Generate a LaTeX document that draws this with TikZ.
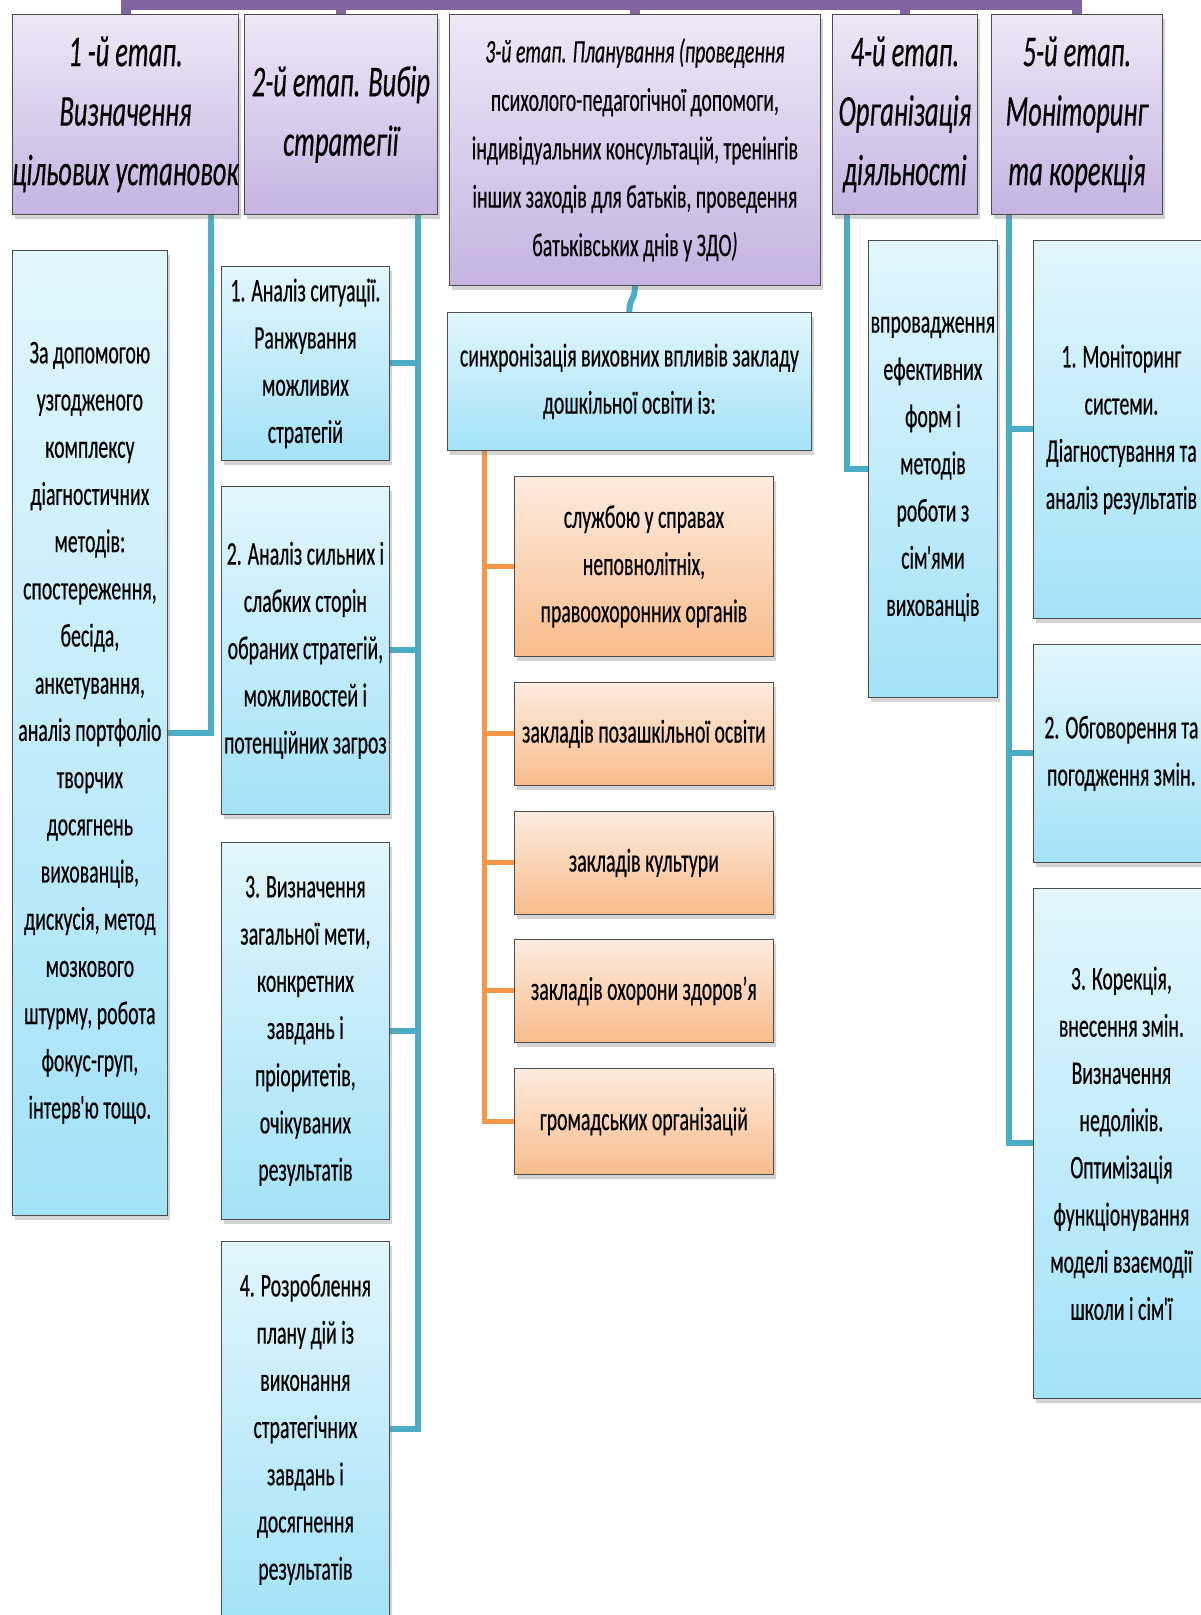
\documentclass[tikz,border=0pt]{standalone}
\usepackage{fontspec}
\setmainfont{Carlito}[FakeStretch=0.6,FakeBold=0.35]
\usetikzlibrary{shadows,backgrounds}
\definecolor{lilactop}{HTML}{EEE8F6}
\definecolor{lilacbot}{HTML}{C6B3E2}
\definecolor{skytop}{HTML}{E2F6FC}
\definecolor{skybot}{HTML}{A3E2F8}
\definecolor{peachtop}{HTML}{FDECDF}
\definecolor{peachbot}{HTML}{F9BC8B}
\definecolor{tealline}{HTML}{4BACC6}
\definecolor{orangeline}{HTML}{F79646}
\definecolor{barline}{HTML}{8064A2}
\newcommand\apos{\kern-0.02em\textquotesingle\kern-0.09em}
\begin{document}
\begin{tikzpicture}[x=0.5pt,y=-0.5pt,
  box/.style={draw=gray!60!black,line width=0.4pt,align=center,inner sep=0pt,anchor=north west,
    drop shadow={shadow xshift=1.2pt,shadow yshift=-2.4pt,opacity=0.35}},
  size/.style 2 args={minimum width=#1pt,minimum height=#2pt},
  stage/.style={box,top color=lilactop,bottom color=lilacbot,font=\fontsize{22}{29.75}\selectfont\itshape},
  item/.style={box,top color=skytop,bottom color=skybot,font=\fontsize{16.5}{23.6}\selectfont},
  partner/.style={box,top color=peachtop,bottom color=peachbot,font=\fontsize{16.5}{23.6}\selectfont},
  link/.style={draw=tealline,line width=3pt},
  olink/.style={draw=orangeline,line width=2.5pt},
  topbar/.style={draw=barline,line width=5pt}]
\useasboundingbox (0,0) rectangle (1200,1615);

% stages
\node[stage,size={110}{100}] (h1) at (12,14) {1 -й етап.\\Визначення\\цільових установок};
\node[stage,size={96.5}{100}] (h2) at (244,14) {2-й етап. Вибір\\стратегії};
\node[stage,size={185.5}{135.5},font=\fontsize{16.5}{24.2}\selectfont] (h3) at (449,14)
  {\textit{3-й етап. Планування (проведення}\\психолого-педагогічної допомоги,\\індивідуальних консультацій, тренінгів\\інших заходів для батьків, проведення\\батьківських днів у ЗДО\textit{)}};
\node[stage,size={72.5}{100}] (h4) at (832,14) {4-й етап.\\Організація\\діяльності};
\node[stage,size={85.5}{100}] (h5) at (991,14) {5-й етап.\\Моніторинг\\та корекція};

% stage 1
\node[item,size={77.5}{482.5}] (goal) at (12,250) {За допомогою\\узгодженого\\комплексу\\діагностичних\\методів:\\спостереження,\\бесіда,\\анкетування,\\аналіз портфоліо\\творчих\\досягнень\\вихованців,\\дискусія, метод\\мозкового\\штурму, робота\\фокус-груп,\\інтерв\apos ю тощо.};

% stage 2
\node[item,size={84}{97}] (s1) at (221,266) {1. Аналіз ситуації.\\Ранжування\\можливих\\стратегій};
\node[item,size={84}{164}] (s2) at (221,486) {2. Аналіз сильних і\\слабких сторін\\обраних стратегій,\\можливостей і\\потенційних загроз};
\node[item,size={84}{188.5}] (s3) at (221,842) {3. Визначення\\загальної мети,\\конкретних\\завдань і\\пріоритетів,\\очікуваних\\результатів};
\node[item,size={84}{188}] (s4) at (221,1241) {4. Розроблення\\плану дій із\\виконання\\стратегічних\\завдань і\\досягнення\\результатів};

% stage 3
\node[item,size={182}{69}] (sync) at (447,312) {синхронізація виховних впливів закладу\\дошкільної освіти із:};
\node[partner,size={129.5}{90}] (p1) at (514,476) {службою у справах\\неповнолітніх,\\правоохоронних органів};
\node[partner,size={129.5}{51.5}] (p2) at (514,682) {закладів позашкільної освіти};
\node[partner,size={129.5}{51.5}] (p3) at (514,811) {закладів культури};
\node[partner,size={129.5}{51.5}] (p4) at (514,939) {закладів охорони здоров’я};
\node[partner,size={129.5}{53}] (p5) at (514,1068) {громадських організацій};

% stage 4
\node[item,size={64.5}{228.5}] (act) at (868,240) {впровадження\\ефективних\\форм і\\методів\\роботи з\\сім\apos ями\\вихованців};

% stage 5
\node[item,size={88}{189}] (m1) at (1033,240) {1. Моніторинг\\системи.\\Діагностування та\\аналіз результатів};
\node[item,size={88}{109}] (m2) at (1033,644) {2. Обговорення та\\погодження змін.};
\node[item,size={88}{255}] (m3) at (1033,888) {3. Корекція,\\внесення змін.\\Визначення\\недоліків.\\Оптимізація\\функціонування\\моделі взаємодії\\школи і сім\apos ї};

% connectors
\begin{scope}[on background layer]
\coordinate (bar) at (0,5);
\draw[topbar] (h1.north) -- (h1.north |- bar) -- (h5.north |- bar) -- (h5.north);
\foreach \h in {h2,h3,h4}
  \draw[topbar] (\h.north) -- (\h.north |- bar);
\coordinate (d1) at (211,214);
\coordinate (d2) at (418,214);
\coordinate (d4) at (847,214);
\coordinate (d5) at (1009,214);
\coordinate (d3) at (484,450);
\draw[link] (d1) |- (goal.east);
\foreach \n in {1,...,4}
  \draw[link] (d2) |- (s\n.west -| s\n.east);
\draw[link] (h3.south) .. controls +(0,16) and +(0,-16) .. (sync.north);
\foreach \n in {1,...,5}
  \draw[olink] (d3) |- (p\n.west);
\draw[link] (d4) |- (act.west);
\foreach \n in {1,2,3}
  \draw[link] (d5) |- (m\n.west);
\end{scope}
\end{tikzpicture}
\end{document}
